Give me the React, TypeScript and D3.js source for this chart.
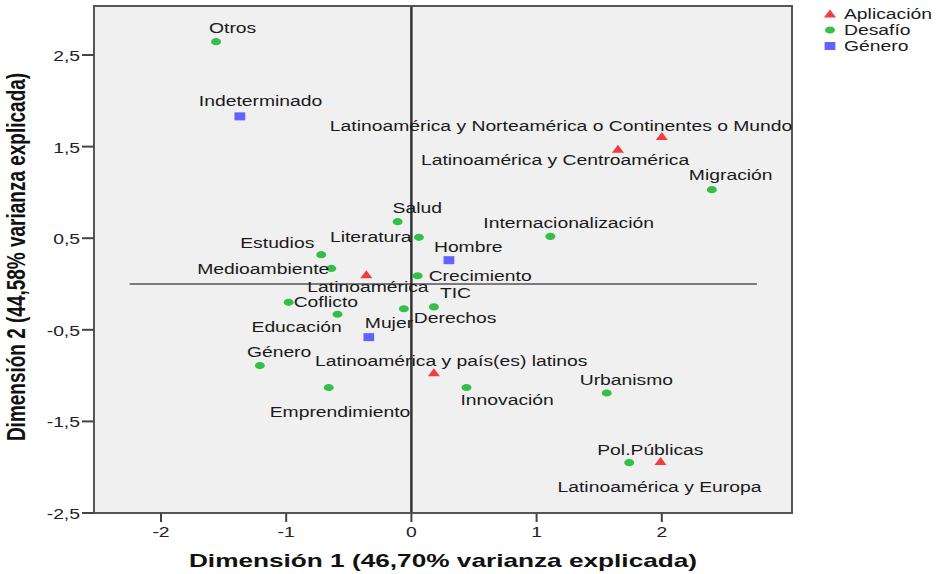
import * as d3 from "d3";

// Points of the two-dimension map (Dimension 1, Dimension 2)
const aplicacion = [
  { label: "Latinoamérica y Norteamérica o Continentes o Mundo", x: 2.0, y: 1.61 },
  { label: "Latinoamérica y Centroamérica", x: 1.65, y: 1.47 },
  { label: "Latinoamérica", x: -0.36, y: 0.1 },
  { label: "Latinoamérica y país(es) latinos", x: 0.18, y: -0.97 },
  { label: "Latinoamérica y Europa", x: 1.99, y: -1.94 },
];

const desafio = [
  { label: "Otros", x: -1.56, y: 2.645 },
  { label: "Migración", x: 2.4, y: 1.03 },
  { label: "Salud", x: -0.11, y: 0.68 },
  { label: "Literatura", x: 0.06, y: 0.51 },
  { label: "Internacionalización", x: 1.11, y: 0.52 },
  { label: "Estudios", x: -0.72, y: 0.32 },
  { label: "Medioambiente", x: -0.64, y: 0.17 },
  { label: "Crecimiento", x: 0.05, y: 0.09 },
  { label: "TIC", x: 0.18, y: -0.25 },
  { label: "Derechos", x: -0.06, y: -0.27 },
  { label: "Coflicto", x: -0.98, y: -0.2 },
  { label: "Educación", x: -0.59, y: -0.33 },
  { label: "Género", x: -1.21, y: -0.89 },
  { label: "Emprendimiento", x: -0.66, y: -1.13 },
  { label: "Innovación", x: 0.44, y: -1.13 },
  { label: "Urbanismo", x: 1.56, y: -1.19 },
  { label: "Pol.Públicas", x: 1.74, y: -1.95 },
];

const genero = [
  { label: "Indeterminado", x: -1.37, y: 1.83 },
  { label: "Hombre", x: 0.3, y: 0.26 },
  { label: "Mujer", x: -0.34, y: -0.58 },
];

const xTicks = [-2, -1, 0, 1, 2];
const yTicks = [-2.5, -1.5, -0.5, 0.5, 1.5, 2.5];
const legendItems = ["Aplicación", "Desafío", "Género"];

const xTitle = "Dimensión 1 (46,70% varianza explicada)";
const yTitle = "Dimensión 2 (44,58% varianza explicada)";

// label placement relative to its point (screen px: left edge, baseline)
const labelOffsets: Record<string, [number, number]> = {
  "Latinoamérica y Norteamérica o Continentes o Mundo": [-332, -6],
  "Latinoamérica y Centroamérica": [-197, 16],
  "Latinoamérica": [-59, 17],
  "Latinoamérica y país(es) latinos": [-119, -7],
  "Latinoamérica y Europa": [-103, 30],
  Otros: [-7, -9],
  Migración: [-23, -10],
  Salud: [-5, -9],
  Literatura: [-89, 5],
  Internacionalización: [-67, -8],
  Estudios: [-81, -7],
  Medioambiente: [-134, 6],
  Crecimiento: [11, 5],
  TIC: [6, -9],
  Derechos: [10, 14],
  Coflicto: [5, 5],
  Educación: [-86, 18],
  Género: [-13, -9],
  Emprendimiento: [-59, 29],
  Innovación: [-6, 18],
  Urbanismo: [-27, -8],
  "Pol.Públicas": [-32, -8],
  Indeterminado: [-41, -10],
  Hombre: [-15, -8],
  Mujer: [-4, -9],
};

const W = 939;
const H = 574;
const S = 1.38; // the picture is stretched horizontally
const VW = W / S;

const RED = "#f23c44";
const GREEN = "#33bf48";
const BLUE = "#6262ff";
const FONT = "'Liberation Sans', Arial, sans-serif";

const x = d3.scaleLinear().domain([-2.535, 3.04]).range([94 / S, 792 / S]);
const y = d3.scaleLinear().domain([-2.5, 3.035]).range([513, 6]);
const fmt = (v: number) => String(v).replace(".", ",");

const tri = "M0,-4.6 L4.4,3.4 L-4.4,3.4 Z";

const Marker = ({ kind, cx, cy }: { kind: number; cx: number; cy: number }) => {
  if (kind === 0) return <path d={tri} transform={`translate(${cx},${cy})`} fill={RED} />;
  if (kind === 1) return <circle cx={cx} cy={cy} r={3.6} fill={GREEN} />;
  return <rect x={cx - 3.9} y={cy - 4} width={7.8} height={8} fill={BLUE} />;
};

export default function App() {
  const series = [aplicacion, desafio, genero];
  const [x0, x1] = x.range();
  const [yb, yt] = y.range();
  return (
    <div style={{ position: "absolute", left: 0, top: 0 }}>
      <svg width={W} height={H} viewBox={`0 0 ${VW} ${H}`} preserveAspectRatio="none"
        style={{ display: "block", background: "#fff" }} fontFamily={FONT}>
        <rect x={x0} y={yt} width={x1 - x0} height={yb - yt} fill="#f0f0f0" />

        {/* reference lines */}
        <line x1={x(-2.25)} x2={x(2.76)} y1={y(0)} y2={y(0)} stroke="#555" strokeWidth={1.5}
          vectorEffect="non-scaling-stroke" />
        <line x1={x(0)} x2={x(0)} y1={yt} y2={yb} stroke="#333" strokeWidth={2.5}
          vectorEffect="non-scaling-stroke" />

        {/* frame */}
        <rect x={x0} y={yt} width={x1 - x0} height={yb - yt} fill="none" stroke="#555"
          strokeWidth={2} vectorEffect="non-scaling-stroke" />

        {/* y axis */}
        {yTicks.map((t) => (
          <g key={t}>
            <line x1={x0 - 12 / S} x2={x0} y1={y(t)} y2={y(t)} stroke="#444" strokeWidth={2}
              vectorEffect="non-scaling-stroke" />
            <text x={x0 - 14 / S} y={y(t) + 6} textAnchor="end" fontSize={14} fill="#222">{fmt(t)}</text>
          </g>
        ))}

        {/* x axis */}
        {xTicks.map((t) => (
          <g key={t}>
            <line x1={x(t)} x2={x(t)} y1={yb} y2={yb + 9} stroke="#444" strokeWidth={2}
              vectorEffect="non-scaling-stroke" />
            <text x={x(t)} y={537} textAnchor="middle" fontSize={14} fill="#222">{fmt(t)}</text>
          </g>
        ))}

        {/* points and labels */}
        {series.map((pts, k) =>
          pts.map((p) => {
            const [dx, dy] = labelOffsets[p.label] || [0, -8];
            return (
              <g key={p.label}>
                <Marker kind={k} cx={x(p.x)} cy={y(p.y)} />
                <text x={x(p.x) + dx / S} y={y(p.y) + dy} fontSize={14} fill="#1a1a1a">{p.label}</text>
              </g>
            );
          })
        )}

        {/* titles */}
        <text x={443 / S} y={567} textAnchor="middle" fontSize={19} fontWeight="bold" fill="#111">
          {xTitle}
        </text>
        <text transform={`translate(${24.5 / S},257) rotate(-90)`} textAnchor="middle" fontSize={19}
          fontWeight="bold" fill="#111">
          {yTitle}
        </text>

        {/* legend */}
        {legendItems.map((name, i) => (
          <g key={name}>
            <Marker kind={i} cx={830 / S} cy={14 + i * 16} />
            <text x={844 / S} y={19 + i * 16} fontSize={14} fill="#1a1a1a">{name}</text>
          </g>
        ))}
      </svg>
    </div>
  );
}
